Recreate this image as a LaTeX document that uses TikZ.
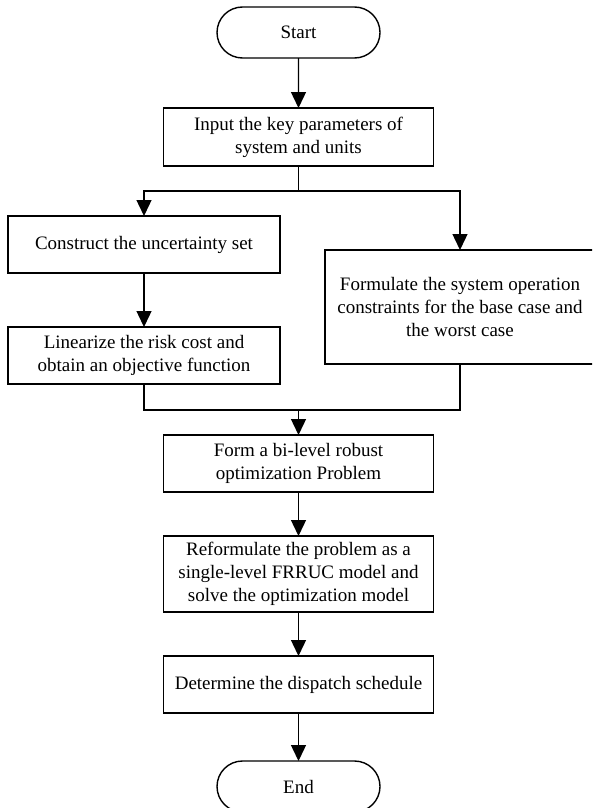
\documentclass[tikz,border=0pt]{standalone}
\usepackage{fontspec}
\setmainfont{Liberation Serif}
\usepackage{tikz}
\usetikzlibrary{arrows.meta, positioning, shapes.misc}

\tikzset{
  process/.style={draw, line width=1.4pt, rectangle, inner sep=0pt, outer sep=0pt,
    minimum width=270pt, minimum height=57pt, align=center,
    font=\fontsize{19}{23}\selectfont},
  terminal/.style={draw, line width=1.4pt, rounded rectangle, inner sep=0pt, outer sep=0pt,
    minimum width=163pt, minimum height=51pt, font=\fontsize{19}{23}\selectfont},
  flow/.style={line width=1.4pt, -{Triangle[length=16pt,width=15pt]}},
  link/.style={line width=1.4pt},
}

\begin{document}
\begin{tikzpicture}[x=1pt, y=-1pt]
  \useasboundingbox (0,0) rectangle (592,808);
  \clip (0,0) rectangle (592,808);

  \node[terminal] (start) at (298.5,32.5) {Start};
  \node[process, minimum height=58pt, below=50pt of start] (input)
    {Input the key parameters of\\system and units};

  \node[process, minimum width=272pt, below=50pt of input, xshift=-154.5pt] (construct)
    {Construct the uncertainty set};
  \node[process, minimum width=272pt, below=54pt of construct] (linearize)
    {Linearize the risk cost and\\obtain an objective function};
  \node[process, minimum height=114pt, below=84pt of input, xshift=161.5pt] (formulate)
    {Formulate the system operation\\constraints for the base case and\\the worst case};

  \node[process, below=269pt of input] (form)
    {Form a bi-level robust\\optimization Problem};
  \node[process, minimum height=76pt, below=44pt of form] (reform)
    {Reformulate the problem as a\\single-level FRRUC model and\\solve the optimization model};
  \node[process, below=44pt of reform] (determine)
    {Determine the dispatch schedule};
  \node[terminal, below=48pt of determine] (end) {End};

  % split and merge points
  \coordinate[below=25pt of input] (split);
  \coordinate[above=25pt of form] (merge);

  \draw[flow] (start) -- (input);
  \draw[link] (input) -- (split);
  \draw[flow] (split) -| (construct.north);
  \draw[flow] (split) -| (formulate.north);
  \draw[flow] (construct) -- (linearize);

  \draw[link] (linearize.south) |- (merge);
  \draw[link] (formulate.south) |- (merge);
  \draw[flow] (merge) -- (form);

  \draw[flow] (form) -- (reform);
  \draw[flow] (reform) -- (determine);
  \draw[flow] (determine) -- (end);
\end{tikzpicture}
\end{document}
